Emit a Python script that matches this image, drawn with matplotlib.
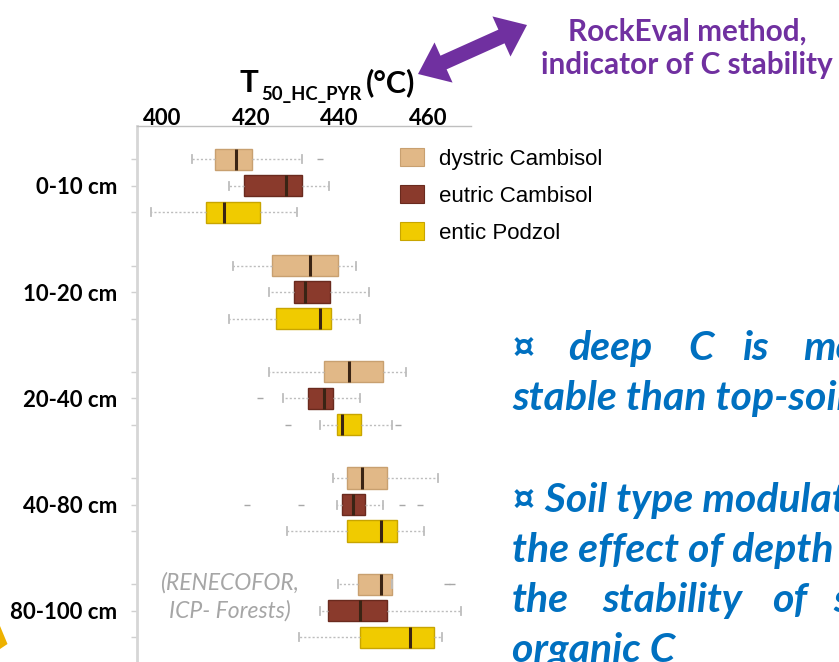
import matplotlib
matplotlib.use('Agg')
import matplotlib.pyplot as plt
from matplotlib.patches import Patch, Polygon
import numpy as np

W, H = 839, 662

# ---------------- data ----------------
depths = ['0-10 cm', '10-20 cm', '20-40 cm', '40-80 cm', '80-100 cm']
soils = ['dystric Cambisol', 'eutric Cambisol', 'entic Podzol']
x_ticks = [400, 420, 440, 460]

# per depth (0-10, 10-20, 20-40, 40-80, 80-100)
dystric_whislo = [406.7, 415.9, 424.1, 438.5, 439.6]
dystric_q1 = [411.9, 424.7, 436.5, 441.6, 444.1]
dystric_med = [416.5, 433.4, 442.1, 445.2, 449.3]
dystric_q3 = [420.2, 439.6, 449.9, 450.8, 451.9]
dystric_whishi = [431.5, 443.7, 455.0, 462.2, 451.9]
dystric_fliers = [[435.6], [], [], [], [464.2, 465.4]]

eutric_whislo = [415.0, 424.1, 427.2, 439.5, 435.5]
eutric_q1 = [418.5, 429.7, 432.9, 440.6, 437.5]
eutric_med = [427.8, 432.1, 436.5, 443.1, 444.7]
eutric_q3 = [431.5, 437.9, 438.5, 445.8, 450.8]
eutric_whishi = [437.6, 446.7, 444.7, 449.8, 467.4]
eutric_fliers = [[], [], [422.0], [419.0, 431.3, 454.1, 458.1], []]

entic_whislo = [397.4, 415.0, 435.5, 428.2, 430.8]
entic_q1 = [409.8, 425.6, 439.5, 441.6, 444.6]
entic_med = [414.0, 435.5, 440.6, 449.3, 455.9]
entic_q3 = [422.1, 438.1, 444.8, 452.9, 461.4]
entic_whishi = [430.3, 444.6, 451.9, 459.1, 463.2]
entic_fliers = [[], [], [428.3, 453.2], [], []]

soil_colors = ['#E1B887', '#8A3A2C', '#F0CB00']
edge_colors = ['#C8A070', '#6A2A1E', '#C8A500']

series = [
    (dystric_whislo, dystric_q1, dystric_med, dystric_q3, dystric_whishi, dystric_fliers),
    (eutric_whislo, eutric_q1, eutric_med, eutric_q3, eutric_whishi, eutric_fliers),
    (entic_whislo, entic_q1, entic_med, entic_q3, entic_whishi, entic_fliers),
]

# ---------------- helpers ----------------
def fx(px):
    return px / W

def fy(py):
    return 1 - py / H

FAM = ['Lato', 'DejaVu Sans']

fig = plt.figure(figsize=(W / 100, H / 100), dpi=100)
fig.patch.set_facecolor('white')

ax_left, ax_right, ax_top = 137, 471, 126
ax = fig.add_axes([fx(ax_left), 0, (ax_right - ax_left) / W, (H - ax_top) / H])

stats, positions, colors, ecolors = [], [], [], []
for g in range(len(depths)):
    for s, (wl, q1, md, q3, wh, fl) in enumerate(series):
        stats.append(dict(whislo=wl[g], q1=q1[g], med=md[g], q3=q3[g],
                          whishi=wh[g], fliers=fl[g]))
        positions.append(4 * g + s)
        colors.append(soil_colors[s])
        ecolors.append(edge_colors[s])

kw = dict(positions=positions, widths=0.8, patch_artist=True, manage_ticks=False,
          whiskerprops=dict(color='#BDBDBD', linestyle=(0, (1.5, 1.5)), linewidth=1),
          capprops=dict(color='#BDBDBD', linewidth=1.3),
          capwidths=0.3,
          medianprops=dict(color='#3A2414', linewidth=2.2),
          flierprops=dict(marker='_', markeredgecolor='#A8A8A8', markersize=5,
                          markeredgewidth=1))
try:
    bp = ax.bxp(stats, orientation='horizontal', **kw)
except TypeError:
    bp = ax.bxp(stats, vert=False, **kw)

for box, c, ec in zip(bp['boxes'], colors, ecolors):
    box.set_facecolor(c)
    box.set_edgecolor(ec)
    box.set_linewidth(1.0)

x0 = 394.24
x1 = 469.72
ax.set_xlim(x0, x1)
unit = 26.56
ax.set_ylim(18 + (662 - 637.3) / unit, -(159.3 - ax_top) / unit)

# axes styling
for side in ['right', 'bottom']:
    ax.spines[side].set_visible(False)
ax.spines['left'].set_color('#D6D6D6')
ax.spines['left'].set_linewidth(2)
ax.spines['top'].set_color('#BFBFBF')
ax.spines['top'].set_linewidth(1)

ax.xaxis.tick_top()
ax.set_xticks(x_ticks)
ax.set_xticklabels([str(v) for v in x_ticks], fontsize=16, fontweight='bold', family=FAM)
ax.tick_params(axis='x', length=0, pad=-2.5)

ax.set_yticks(positions)
ylabels = []
for g in range(len(depths)):
    ylabels += ['', depths[g], '']
ax.set_yticklabels(ylabels, fontsize=16, fontweight='bold', family=FAM)
ax.tick_params(axis='y', length=4, color='#D0D0D0', width=1, pad=10)

# legend
handles = [Patch(facecolor=c, edgecolor=ec, linewidth=0.8) for c, ec in zip(soil_colors, edge_colors)]
fig.legend(handles, soils, loc='upper left', bbox_to_anchor=(fx(400), fy(148)),
           frameon=False, borderpad=0, borderaxespad=0, handlelength=1.1,
           handleheight=0.85, handletextpad=0.65, labelspacing=0.7,
           prop=dict(family=['Liberation Sans', 'DejaVu Sans'], size=16))

# title T50_HC_PYR (°C)
fig.text(fx(239), fy(92), 'T', fontsize=22.5, fontweight='bold', family=FAM, va='baseline')
fig.text(fx(261), fy(100), '50_HC_PYR', fontsize=13.3, fontweight='bold', family=FAM, va='baseline')
fig.text(fx(366), fy(92), '(°C)', fontsize=22, fontweight='bold', family=FAM, va='baseline')

# purple double arrow
purple = '#7030A0'
p1 = np.array([418.0, 74.0])
p2 = np.array([527.0, 25.0])
d = p2 - p1
L = np.hypot(*d)
u = d / L
n = np.array([-u[1], u[0]])
hw_s, hw_h, hl = 7.5, 22.0, 28.0
pts = [p1,
       p1 + u * hl + n * hw_h,
       p1 + u * hl + n * hw_s,
       p2 - u * hl + n * hw_s,
       p2 - u * hl + n * hw_h,
       p2,
       p2 - u * hl - n * hw_h,
       p2 - u * hl - n * hw_s,
       p1 + u * hl - n * hw_s,
       p1 + u * hl - n * hw_h]
pts = [(fx(p[0]), fy(p[1])) for p in pts]
fig.patches.append(Polygon(pts, closed=True, facecolor=purple, edgecolor='none',
                           transform=fig.transFigure, figure=fig))

fig.text(fx(687), fy(32), 'RockEval method,', color=purple, fontsize=21.4, fontweight='bold',
         family=FAM, ha='center', va='center')
fig.text(fx(687), fy(65), 'indicator of C stability', color=purple, fontsize=21.4,
         fontweight='bold', family=FAM, ha='center', va='center')

# gray source text
fig.text(fx(229), fy(590), '(RENECOFOR,', color='#A6A6A6', fontsize=16.5, style='italic',
         family=FAM, ha='center', va='baseline')
fig.text(fx(230), fy(618), 'ICP- Forests)', color='#A6A6A6', fontsize=16.5, style='italic',
         family=FAM, ha='center', va='baseline')

# blue notes
blue = '#0070C0'
bkw = dict(color=blue, fontsize=29.5, fontweight='bold', style='italic', family=FAM, va='baseline')
for word, px in zip(['¤', 'deep', 'C', 'is', 'more'], [512, 568, 688, 743, 803]):
    fig.text(fx(px), fy(360), word, **bkw)
fig.text(fx(512), fy(410), 'stable than top-soil C', **bkw)
fig.text(fx(512), fy(511.7), '¤ Soil type modulates', **bkw)
fig.text(fx(512), fy(561.7), 'the effect of depth on', **bkw)
for word, px in zip(['the', 'stability', 'of', 'soil'], [512, 602, 772, 833]):
    fig.text(fx(px), fy(611.7), word, **bkw)
fig.text(fx(512), fy(661.7), 'organic C', **bkw)

# yellow arrow fragment bottom-left
tri = [(fx(0), fy(626)), (fx(7.5), fy(644)), (fx(0), fy(649))]
fig.patches.append(Polygon(tri, closed=True, facecolor='#EDB100', edgecolor='none',
                           transform=fig.transFigure, figure=fig))

fig.savefig('out.png', dpi=100)
